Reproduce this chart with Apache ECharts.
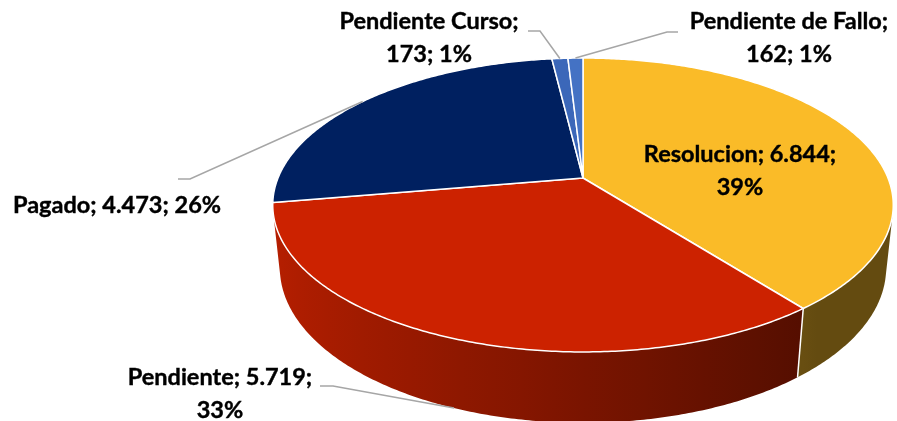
<!DOCTYPE html>
<html>
<head>
<meta charset="utf-8">
<style>
  html, body { margin: 0; padding: 0; background: #fff; }
  #chart { width: 897px; height: 421px; }
</style>
<script src="https://cdn.jsdelivr.net/npm/echarts@6.0.0/dist/echarts.min.js"></script>
</head>
<body>
<div id="chart"></div>
<script>
// data
const categories = ['Resolucion', 'Pendiente', 'Pagado', 'Pendiente Curso', 'Pendiente de Fallo'];
const values = [6844, 5719, 4473, 173, 162];
const colors = ['#FABB28', '#CC2200', '#002060', '#3B67B9', '#4472C4'];

// where each label goes (text centre, line break, leader line start + elbow)
const labelLayout = [
  { x: 740, y: 171, breakAfter: 'value' },
  { x: 220, y: 394, breakAfter: 'value', line: [[320, 386], [333, 386]] },
  { x: 117, y: 205, breakAfter: 'none', line: [[178, 179], [190, 179]] },
  { x: 429, y: 38, breakAfter: 'name', line: [[528, 31], [540, 31]] },
  { x: 789, y: 38, breakAfter: 'name', line: [[678, 32], [667, 32]] }
];

const total = values.reduce((a, b) => a + b, 0);
const starts = values.map((v, i) => values.slice(0, i).reduce((a, b) => a + b, 0));

// perspective camera for the pie (radius 1, height h)
const cam = { cx: 583, cy: 178, f: 1470, d: 4.82, sinA: 0.4656, cosA: 0.885, h: 0.235 };
function project(theta, base) {
  const u = Math.sin(theta), v = Math.cos(theta), z = base ? -cam.h : 0;
  const depth = cam.d + v * cam.cosA - z * cam.sinA;
  return [cam.cx + cam.f * u / depth, cam.cy - cam.f * (v * cam.sinA + z * cam.cosA) / depth];
}
const visLo = Math.acos(-1 / (cam.d * cam.cosA));
const visHi = Math.PI * 2 - visLo;

function angles(i) {
  return [starts[i] / total * Math.PI * 2, (starts[i] + values[i]) / total * Math.PI * 2];
}
function arc(a0, a1, base) {
  const n = Math.max(2, Math.ceil(Math.abs(a1 - a0) / 0.01));
  const pts = [];
  for (let k = 0; k <= n; k++) pts.push(project(a0 + (a1 - a0) * k / n, base));
  return pts;
}
function shade(hex, f) {
  const r = parseInt(hex.slice(1, 3), 16), g = parseInt(hex.slice(3, 5), 16), b = parseInt(hex.slice(5, 7), 16);
  return 'rgb(' + Math.round(r * f) + ',' + Math.round(g * f) + ',' + Math.round(b * f) + ')';
}
// side light: bright on the left, dark on the right
function light(t) {
  return Math.max(0.4, 0.6 - 0.3 * Math.sin(t));
}
function fmt(v) {
  return String(v).replace(/\B(?=(\d{3})+(?!\d))/g, '.');
}

const seriesData = values.map((v, i) => ({ name: categories[i], value: v }));

function renderWall(params, api) {
  const i = params.dataIndex;
  const [a0, a1] = angles(i);
  const b0 = Math.max(a0, visLo), b1 = Math.min(a1, visHi);
  if (b1 <= b0) return { type: 'group', children: [] };
  const pts = arc(b0, b1, false).concat(arc(b1, b0, true));
  const xs = pts.map(p => p[0]);
  const xmin = Math.min(...xs), xmax = Math.max(...xs);
  const stops = [];
  const n = 12;
  for (let k = 0; k <= n; k++) {
    const t = b0 + (b1 - b0) * k / n;
    const x = project(t, false)[0];
    stops.push({ offset: Math.min(1, Math.max(0, (x - xmin) / (xmax - xmin || 1))), color: shade(colors[i], light(t)) });
  }
  stops.sort((a, b) => a.offset - b.offset);
  const children = [{
    type: 'polygon',
    shape: { points: pts },
    style: { fill: { type: 'linear', x: 0, y: 0, x2: 1, y2: 0, colorStops: stops } }
  }];
  if (a0 > visLo && a0 < visHi) {
    const p = project(a0, false), q = project(a0, true);
    children.push({
      type: 'line',
      shape: { x1: p[0], y1: p[1], x2: q[0], y2: q[1] },
      style: { stroke: '#fff', lineWidth: 1.5 }
    });
  }
  return { type: 'group', children };
}

function renderTop(params, api) {
  const i = params.dataIndex;
  const [a0, a1] = angles(i);
  const pts = [[cam.cx, cam.cy]].concat(arc(a0, a1, false));
  return {
    type: 'polygon',
    shape: { points: pts },
    style: { fill: colors[i], stroke: '#fff', lineWidth: 1.5, lineJoin: 'round' }
  };
}

function renderLabel(params, api) {
  const i = params.dataIndex;
  const lay = labelLayout[i];
  const pct = Math.round(values[i] / total * 100) + '%';
  let text;
  if (lay.breakAfter === 'name') text = categories[i] + ';\n' + fmt(values[i]) + '; ' + pct;
  else if (lay.breakAfter === 'value') text = categories[i] + '; ' + fmt(values[i]) + ';\n' + pct;
  else text = categories[i] + '; ' + fmt(values[i]) + '; ' + pct;
  const children = [];
  if (lay.line) {
    const [a0, a1] = angles(i);
    const mid = (a0 + a1) / 2;
    const anchor = project(mid, Math.cos(mid) < -0.3);
    children.push({
      type: 'polyline',
      shape: { points: lay.line.concat([anchor]) },
      style: { stroke: '#A6A6A6', lineWidth: 1.5, fill: null }
    });
  }
  children.push({
    type: 'text',
    style: {
      text: text, x: lay.x, y: lay.y,
      align: 'center', verticalAlign: 'middle',
      fontFamily: 'Lato', fontWeight: 'bold', fontSize: 23.5, lineHeight: 33,
      fill: '#000', stroke: '#000', lineWidth: 0.4
    }
  });
  return { type: 'group', children };
}

const chart = echarts.init(document.getElementById('chart'));
chart.setOption({
  backgroundColor: '#fff',
  animation: false,
  series: [
    { type: 'custom', name: 'walls', coordinateSystem: 'none', z: 1, data: seriesData, renderItem: renderWall },
    { type: 'custom', name: 'tops', coordinateSystem: 'none', z: 2, data: seriesData, renderItem: renderTop },
    { type: 'custom', name: 'labels', coordinateSystem: 'none', z: 3, data: seriesData, renderItem: renderLabel }
  ]
});
</script>
</body>
</html>
